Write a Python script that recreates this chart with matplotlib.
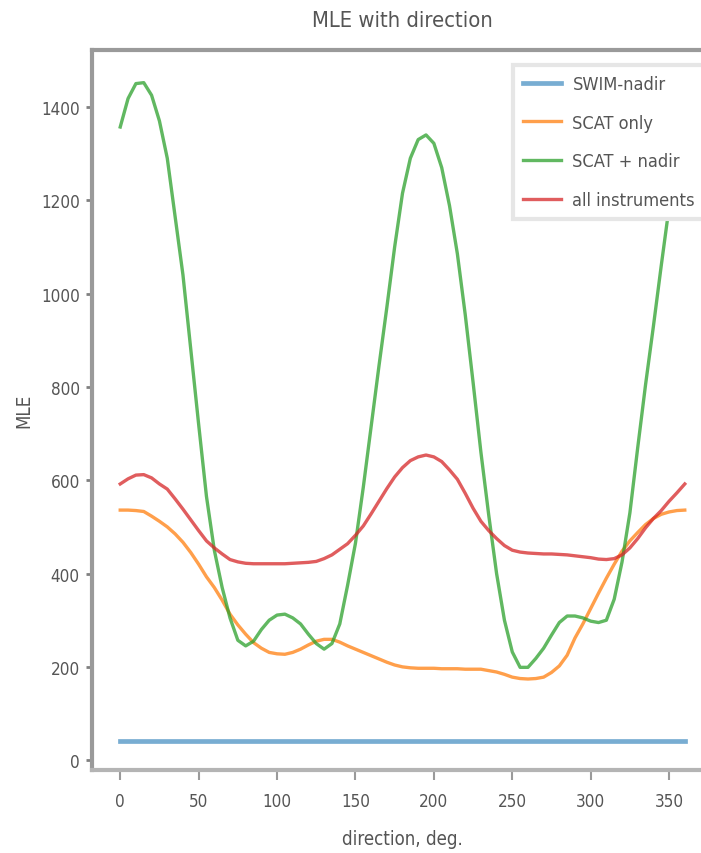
import matplotlib
matplotlib.use("Agg")
import matplotlib.pyplot as plt
from matplotlib import font_manager

# ---------------- data ----------------
directions = [0, 5, 10, 15, 20, 25, 30, 35, 40, 45, 50, 55, 60, 65, 70, 75, 80, 85, 90,
              95, 100, 105, 110, 115, 120, 125, 130, 135, 140, 145, 150, 155, 160, 165,
              170, 175, 180, 185, 190, 195, 200, 205, 210, 215, 220, 225, 230, 235, 240,
              245, 250, 255, 260, 265, 270, 275, 280, 285, 290, 295, 300, 305, 310, 315,
              320, 325, 330, 335, 340, 345, 350, 355, 360]

scat_only = [536, 536, 535, 533, 523, 512, 500, 485, 467, 445, 420, 393, 370, 343, 313,
             290, 270, 252, 240, 231, 228, 227, 231, 238, 247, 255, 259, 259, 253, 245,
             238, 231, 224, 217, 210, 204, 200, 198, 197, 197, 197, 196, 196, 196, 195,
             195, 195, 192, 189, 184, 178, 175, 174, 175, 178, 188, 202, 225, 262, 292,
             325, 358, 390, 420, 448, 470, 488, 505, 518, 527, 532, 535, 536]

scat_nadir = [1357, 1418, 1450, 1452, 1425, 1370, 1290, 1165, 1040, 880, 720, 565, 450,
              370, 305, 257, 245, 255, 280, 300, 311, 313, 305, 292, 270, 250, 238, 250,
              292, 375, 465, 585, 715, 845, 970, 1100, 1215, 1290, 1330, 1340, 1322, 1270,
              1188, 1085, 955, 810, 660, 525, 400, 300, 232, 199, 199, 218, 240, 268, 295,
              309, 309, 305, 298, 295, 300, 345, 425, 530, 670, 805, 930, 1060, 1185,
              1280, 1357]

all_instruments = [592, 603, 611, 612, 605, 592, 581, 560, 538, 515, 492, 470, 455, 442,
                   430, 425, 422, 421, 421, 421, 421, 421, 422, 423, 424, 426, 432, 440,
                   452, 464, 482, 502, 528, 555, 582, 607, 627, 642, 650, 654, 650, 640,
                   622, 602, 572, 540, 512, 492, 475, 460, 450, 446, 444, 443, 442, 442,
                   441, 440, 438, 436, 434, 431, 430, 432, 440, 455, 475, 498, 518, 535,
                   555, 573, 592]

swim_dirs = [0, 90, 180, 270, 360]
swim_nadir = [41, 41, 41, 41, 41]

labels = ["SWIM-nadir", "SCAT only", "SCAT + nadir", "all instruments"]
xticks = [0, 50, 100, 150, 200, 250, 300, 350]
yticks = [0, 200, 400, 600, 800, 1000, 1200, 1400]

# ---------------- fonts: prefer a condensed face (reference text is narrow) ----------------
cond = {"condensed", "semi-condensed", "extra-condensed", "ultra-condensed"}
pref = ["DejaVu Sans", "Liberation Sans Narrow", "Roboto Condensed", "Open Sans Condensed",
        "Noto Sans", "Roboto", "Open Sans", "Lato", "Inter"]
found = None
for cand in pref:
    for f in font_manager.fontManager.ttflist:
        if f.name == cand and f.style == "normal" and f.weight in (400, "normal", "regular") \
                and (str(f.stretch) in cond or "Narrow" in f.name or "Condensed" in f.name):
            found = (f.name, str(f.stretch) if str(f.stretch) in cond else "condensed")
            break
    if found:
        break
if found:
    plt.rcParams["font.family"] = [found[0], "DejaVu Sans"]
    plt.rcParams["font.stretch"] = found[1]
else:
    plt.rcParams["font.family"] = ["DejaVu Sans"]

text_col = "#555555"
spine_col = "#9a9a9a"

W, H = 701, 854
fig = plt.figure(figsize=(W / 100, H / 100), dpi=100)
fig.patch.set_facecolor("white")
renderer = fig.canvas.get_renderer()


def size_for(s, target_px):
    t = fig.text(0, 0, s, fontsize=20)
    w = t.get_window_extent(renderer).width
    t.remove()
    return 20 * target_px / w


def height_of(s, size):
    t = fig.text(0, 0, s, fontsize=size)
    h = t.get_window_extent(renderer).height
    t.remove()
    return h


fs_tick = size_for("1400", 39)
fs_title = size_for("MLE with direction", 181)
fs_lab = size_for("direction, deg.", 121)
fs_leg = size_for("all instruments", 122)

ax_l, ax_r, ax_t, ax_b = 92, 713, 51, 771
ax = fig.add_axes([ax_l / W, 1 - ax_b / H, (ax_r - ax_l) / W, (ax_b - ax_t) / H])

lw = 2.4
ax.plot(swim_dirs, swim_nadir, color="#1f77b4", lw=3.4, alpha=0.6, label=labels[0])
ax.plot(directions, scat_only, color="#ff7f0e", lw=lw, alpha=0.75, label=labels[1])
ax.plot(directions, scat_nadir, color="#2ca02c", lw=lw, alpha=0.75, label=labels[2])
ax.plot(directions, all_instruments, color="#d62728", lw=lw, alpha=0.75, label=labels[3])

ax.set_xlim(-18, 378)
ax.set_ylim(-21, 1522)
ax.set_xticks(xticks)
ax.set_yticks(yticks)

for side, sp in ax.spines.items():
    sp.set_color(spine_col)
    sp.set_linewidth(3)
ax.spines["bottom"].set_color("#b4b4b4")

ax.tick_params(axis="x", length=7, width=1.5, color="#9a9a9a", pad=9.0,
               labelsize=fs_tick, labelcolor=text_col)
ax.tick_params(axis="y", length=4.5, width=2, color="#808080", pad=4.3,
               labelsize=fs_tick, labelcolor=text_col)

ax.set_xlabel("direction, deg.", fontsize=fs_lab, color=text_col, va="center")
ax.xaxis.set_label_coords(0.5, (ax_b - 840) / (ax_b - ax_t))
ax.set_ylabel("MLE", fontsize=fs_lab, color=text_col, va="center")
ax.yaxis.set_label_coords((24 - ax_l) / (ax_r - ax_l), 0.5)

ax.set_title("MLE with direction", fontsize=fs_title, color=text_col, va="center",
             pad=0, y=1 + (ax_t - 21) / (ax_b - ax_t))

# legend geometry from the reference: rows 38.7 px apart, first row centre 19 px below frame
fs_leg_px = fs_leg * 100 / 72
h_row = height_of("SCAT only", fs_leg)
labelspacing = max(0.2, (38.7 - h_row) / fs_leg_px)
borderpad = max(0.1, (19.0 - h_row / 2) / fs_leg_px)
leg_right_px, leg_top_px = 705, 66
leg = ax.legend(loc="upper right",
                bbox_to_anchor=((leg_right_px - ax_l) / (ax_r - ax_l),
                                (ax_b - leg_top_px) / (ax_b - ax_t)),
                fontsize=fs_leg, labelspacing=labelspacing,
                handlelength=38 / fs_leg_px, handletextpad=11 / fs_leg_px,
                borderpad=borderpad, borderaxespad=0, frameon=True,
                fancybox=False, framealpha=1.0)
leg.get_frame().set_edgecolor("#e6e6e6")
leg.get_frame().set_linewidth(3)
for t in leg.get_texts():
    t.set_color(text_col)

fig.savefig("out.png", dpi=100)
